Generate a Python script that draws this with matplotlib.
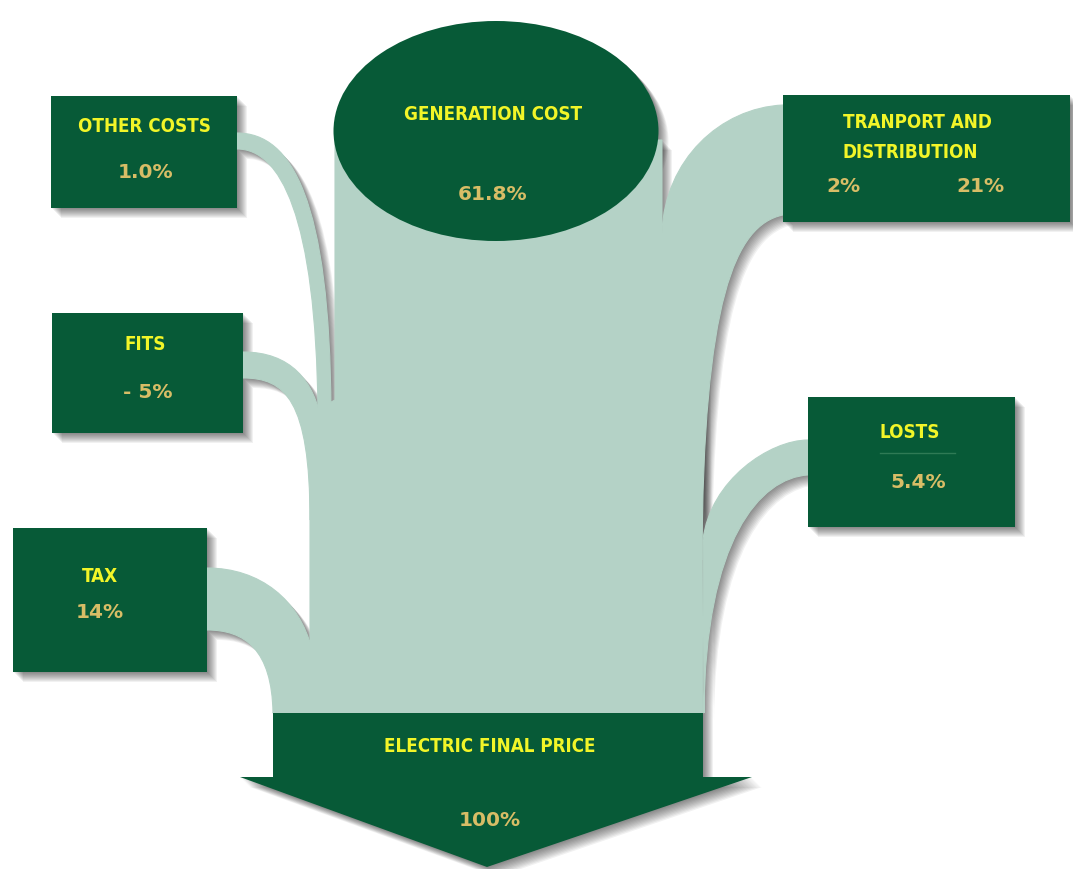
import matplotlib
matplotlib.use('Agg')
import matplotlib.pyplot as plt
from matplotlib.path import Path
from matplotlib.patches import PathPatch
from matplotlib.transforms import Affine2D

# --- chart content ---
box_titles = ['OTHER COSTS', 'FITS', 'TAX', 'LOSTS']
box_values = ['1.0%', '- 5%', '14%', '5.4%']
generation_title = 'GENERATION COST'
generation_value = '61.8%'
transport_title = ['TRANPORT AND', 'DISTRIBUTION']
transport_values = ['2%', '21%']
final_title = 'ELECTRIC FINAL PRICE'
final_value = '100%'

# --- layout (pixel coordinates, y down) ---
box_rects = [(51, 96, 186, 112), (52, 313, 191, 120), (13, 528, 194, 144), (808, 397, 207, 130)]
title_pos = [(144, 127), (145, 345), (100, 576), (910, 432)]
value_pos = [(146, 172), (148, 393), (100, 612), (918, 482)]
transport_rect = (783, 95, 287, 127)

DARK = '#075a37'
LIGHT = '#b4d2c6'
YELLOW = '#f2f528'
GOLD = '#d8bd66'


def rect_path(x, y, w, h):
    return Path([(x, y), (x + w, y), (x + w, y + h), (x, y + h), (x, y)],
                [Path.MOVETO, Path.LINETO, Path.LINETO, Path.LINETO, Path.CLOSEPOLY])


def poly_path(pts):
    return Path(list(pts) + [pts[0]], [Path.MOVETO] + [Path.LINETO] * (len(pts) - 1) + [Path.CLOSEPOLY])


def band_path(outer, inner):
    # outer and inner are cubic beziers (4 points) from the box to the trunk
    verts = list(outer) + [inner[3], inner[2], inner[1], inner[0], outer[0]]
    codes = [Path.MOVETO, Path.CURVE4, Path.CURVE4, Path.CURVE4, Path.LINETO,
             Path.CURVE4, Path.CURVE4, Path.CURVE4, Path.CLOSEPOLY]
    return Path(verts, codes)


def ellipse_path(cx, cy, w, h):
    return Affine2D().scale(w / 2, h / 2).translate(cx, cy).transform_path(Path.unit_circle())


trunk = poly_path([(335, 140), (662, 140), (662, 232), (700, 250), (702, 540), (703, 713),
                   (273, 713), (310, 640), (310, 500), (316, 410), (335, 400)])
bands = [
    band_path([(237, 133), (292, 133), (330, 200), (331, 412)],
              [(237, 149), (280, 149), (316, 215), (318, 412)]),
    band_path([(243, 352), (290, 352), (315, 380), (322, 425)],
              [(243, 378), (285, 378), (310, 400), (310, 520)]),
    band_path([(207, 568), (260, 568), (300, 600), (312, 650)],
              [(207, 630), (245, 630), (272, 650), (273, 713)]),
    band_path([(783, 105), (720, 108), (665, 160), (662, 232)],
              [(783, 215), (735, 225), (703, 300), (702, 560)]),
    band_path([(808, 440), (770, 440), (710, 480), (703, 540)],
              [(808, 475), (760, 478), (705, 540), (704, 713)]),
]
ellipse = ellipse_path(496, 131, 325, 220)
arrow = poly_path([(273, 713), (703, 713), (703, 777), (752, 777), (487, 867), (240, 777), (273, 777)])
boxes = [rect_path(*r) for r in box_rects] + [rect_path(*transport_rect)]

fig = plt.figure(figsize=(10.73, 8.69), dpi=100)
ax = fig.add_axes([0, 0, 1, 1])
ax.set_xlim(0, 1073)
ax.set_ylim(869, 0)
ax.axis('off')

# soft drop shadows
for p in [trunk] + bands + [ellipse, arrow] + boxes:
    for k in range(1, 11):
        ax.add_patch(PathPatch(p, facecolor='black', edgecolor='none', alpha=0.055,
                               transform=Affine2D().translate(k, k) + ax.transData))

ax.add_patch(PathPatch(trunk, facecolor=LIGHT, edgecolor=LIGHT, lw=0.8))
for b in bands:
    ax.add_patch(PathPatch(b, facecolor=LIGHT, edgecolor=LIGHT, lw=0.8))
for p in [ellipse, arrow] + boxes:
    ax.add_patch(PathPatch(p, facecolor=DARK, edgecolor='none'))

title_kw = dict(color=YELLOW, family='DejaVu Sans', fontstretch='condensed', fontweight='bold',
                fontsize=13.5, va='center')
value_kw = dict(color=GOLD, family='DejaVu Sans', fontweight='bold', fontsize=14.5, va='center')

for t, v, tp, vp in zip(box_titles, box_values, title_pos, value_pos):
    ax.text(tp[0], tp[1], t, ha='center', **title_kw)
    ax.text(vp[0], vp[1], v, ha='center', **value_kw)

ax.plot([880, 955], [453, 453], color='#2f7a55', lw=1)

ax.text(493, 115, generation_title, ha='center', **title_kw)
ax.text(493, 195, generation_value, ha='center', **value_kw)

ax.text(843, 123, transport_title[0], ha='left', **title_kw)
ax.text(843, 152, transport_title[1], ha='left', **title_kw)
ax.text(843, 187, transport_values[0], ha='center', **value_kw)
ax.text(980, 187, transport_values[1], ha='center', **value_kw)

ax.text(490, 746, final_title, ha='center', **title_kw)
ax.text(490, 820, final_value, ha='center', **value_kw)

fig.savefig('out.png', dpi=100, facecolor='white')
